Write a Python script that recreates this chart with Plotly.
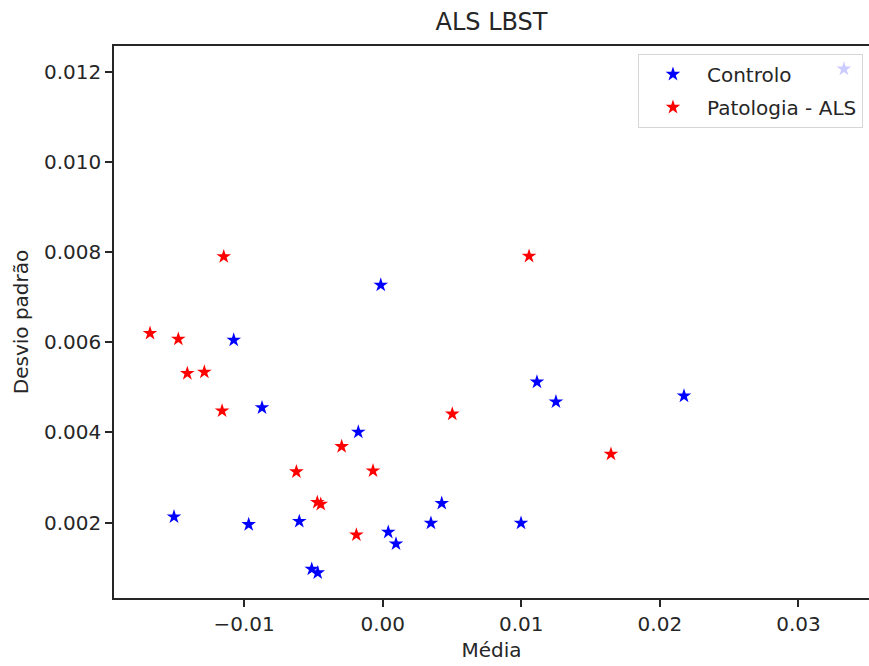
import plotly.graph_objects as go

# Controlo (blue)
ctrl_x = [-0.00014, -0.01075, -0.00871, -0.00176, 0.01113, 0.01250, 0.02174,
          -0.01506, -0.00967, -0.00602, 0.00426, 0.00348, 0.00040, 0.00096,
          -0.00512, -0.00469, 0.00998, 0.03328]
ctrl_y = [0.00727, 0.00605, 0.00455, 0.00401, 0.00512, 0.00468, 0.00481,
          0.00213, 0.00196, 0.00203, 0.00243, 0.00199, 0.00179, 0.00153,
          0.00097, 0.00089, 0.00199, 0.01206]

# Patologia - ALS (red)
als_x = [-0.01147, 0.01056, -0.01679, -0.01475, -0.01410, -0.01287, -0.01159,
         0.00502, 0.01647, -0.00623, -0.00296, -0.00070, -0.00472, -0.00447,
         -0.00190]
als_y = [0.00790, 0.00791, 0.00620, 0.00607, 0.00531, 0.00534, 0.00448,
         0.00441, 0.00352, 0.00313, 0.00369, 0.00315, 0.00245, 0.00241,
         0.00173]

x_tickvals = [-0.01, 0.00, 0.01, 0.02, 0.03]
x_ticktext = ["\u22120.01", "0.00", "0.01", "0.02", "0.03"]
y_tickvals = [0.002, 0.004, 0.006, 0.008, 0.010, 0.012]
y_ticktext = ["0.002", "0.004", "0.006", "0.008", "0.010", "0.012"]

FONT = "DejaVu Sans"
TXT = "#262626"
AX = "#262626"

fig = go.Figure()
fig.add_trace(go.Scatter(x=ctrl_x, y=ctrl_y, mode="markers", name="Controlo",
                         legendgroup="a",
                         marker=dict(symbol="star", size=11, color="#0000ff",
                                     line=dict(width=0))))
fig.add_trace(go.Scatter(x=als_x, y=als_y, mode="markers", name="Patologia - ALS",
                         legendgroup="b",
                         marker=dict(symbol="star", size=11, color="#ff0000",
                                     line=dict(width=0))))

fig.update_layout(
    width=869, height=666,
    margin=dict(l=114, r=0, t=46, b=68),
    paper_bgcolor="white", plot_bgcolor="white",
    font=dict(family=FONT, size=20, color=TXT),
    title=dict(text="ALS LBST", x=(114 + 869) / 2 / 869, xanchor="center",
               y=1 - 22 / 666, yanchor="middle",
               font=dict(family=FONT, size=24, color=TXT)),
    showlegend=True,
    legend=dict(x=0.694, y=0.986, xanchor="left", yanchor="top",
                bgcolor="rgba(255,255,255,0.8)", bordercolor="#d6d6d6",
                borderwidth=1, font=dict(family=FONT, size=20, color=TXT),
                itemsizing="trace", itemwidth=58, tracegroupgap=4),
)

fig.update_xaxes(range=[-0.01939, 0.03509], tickvals=x_tickvals, ticktext=x_ticktext,
                 showgrid=False, zeroline=False, showline=True, linecolor=AX,
                 linewidth=1.6, mirror=True, ticks="outside", ticklen=7,
                 tickwidth=1.6, tickcolor=AX, tickfont=dict(size=20),
                 automargin=False,
                 title=dict(text="Média", font=dict(size=20), standoff=8))
fig.update_yaxes(range=[0.00033, 0.01257], tickvals=y_tickvals, ticktext=y_ticktext,
                 showgrid=False, zeroline=False, showline=True, linecolor=AX,
                 linewidth=1.6, mirror=False, ticks="outside", ticklen=7,
                 tickwidth=1.6, tickcolor=AX, tickfont=dict(size=20),
                 automargin=False,
                 title=dict(text="Desvio padrão", font=dict(size=20), standoff=10))

fig.write_html("out.html", config={"displayModeBar": False},
               post_script="document.body.style.margin='0';document.body.style.overflow='hidden';")
